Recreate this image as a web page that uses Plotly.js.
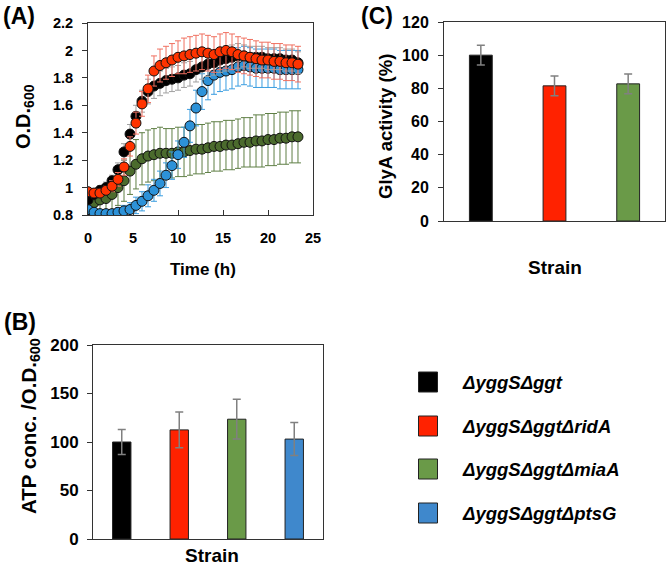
<!DOCTYPE html>
<html>
<head>
<meta charset="utf-8">
<script src="https://cdn.plot.ly/plotly-3.0.1.min.js"></script>
<style>html,body{margin:0;padding:0;background:#fff;}#chart{width:666px;height:565px;}</style>
</head>
<body>
<div id="chart"></div>
<script>
// ---------- DATA ----------
const strains = ['ΔyggSΔggt', 'ΔyggSΔggtΔridA', 'ΔyggSΔggtΔmiaA', 'ΔyggSΔggtΔptsG'];
const strainColors = ['#000000', '#ff2200', '#6a9a48', '#3f88cc'];

// Panel A: growth curves (O.D.600 vs time, h)
const timeH = [0, 0.67, 1.33, 2, 2.67, 3.33, 4, 4.67, 5.33, 6, 6.67, 7.33, 8, 8.67, 9.33, 10, 10.67, 11.33, 12, 12.67, 13.33, 14, 14.67, 15.33, 16, 16.67, 17.33, 18, 18.67, 19.33, 20, 20.67, 21.33, 22, 22.67, 23.33];
const odGgt   = [0.91,0.95,0.98,1.00,1.05,1.13,1.26,1.39,1.52,1.63,1.70,1.74,1.76,1.78,1.79,1.80,1.82,1.83,1.86,1.88,1.90,1.91,1.93,1.94,1.95,1.96,1.96,1.95,1.95,1.95,1.94,1.94,1.94,1.93,1.93,1.91];
const odRidA  = [0.97,0.96,0.96,0.98,1.01,1.06,1.15,1.30,1.47,1.61,1.72,1.85,1.89,1.91,1.93,1.95,1.96,1.97,1.98,1.99,1.98,1.97,1.99,2.00,1.99,1.97,1.96,1.95,1.94,1.93,1.93,1.92,1.92,1.91,1.91,1.90];
const odMiaA  = [0.84,0.89,0.91,0.92,0.95,1.00,1.05,1.12,1.17,1.21,1.23,1.24,1.25,1.25,1.25,1.26,1.26,1.27,1.28,1.28,1.29,1.30,1.30,1.31,1.31,1.32,1.33,1.33,1.34,1.34,1.35,1.35,1.36,1.36,1.37,1.37];
const odPtsG  = [0.84,0.82,0.81,0.81,0.81,0.82,0.83,0.84,0.87,0.90,0.94,0.98,1.03,1.09,1.16,1.24,1.33,1.45,1.58,1.70,1.78,1.82,1.84,1.85,1.86,1.88,1.89,1.88,1.87,1.87,1.87,1.87,1.86,1.86,1.86,1.86];
const errGgt  = [0.03,0.03,0.03,0.04,0.04,0.05,0.06,0.07,0.08,0.08,0.09,0.09,0.09,0.09,0.09,0.09,0.09,0.09,0.09,0.09,0.09,0.09,0.09,0.09,0.09,0.09,0.08,0.08,0.08,0.08,0.08,0.08,0.08,0.08,0.08,0.08];
const errRidA = [0.03,0.03,0.03,0.03,0.04,0.05,0.06,0.07,0.08,0.09,0.10,0.11,0.12,0.12,0.12,0.12,0.13,0.13,0.13,0.13,0.13,0.13,0.13,0.13,0.13,0.13,0.13,0.13,0.13,0.13,0.13,0.13,0.13,0.13,0.13,0.13];
const errMiaA = [0.12,0.10,0.10,0.10,0.11,0.13,0.15,0.17,0.18,0.19,0.19,0.19,0.19,0.18,0.18,0.18,0.18,0.18,0.18,0.18,0.18,0.18,0.18,0.18,0.18,0.18,0.18,0.18,0.19,0.19,0.19,0.19,0.19,0.19,0.19,0.19];
const errPtsG = [0.02,0.02,0.02,0.02,0.03,0.03,0.04,0.05,0.06,0.07,0.08,0.08,0.09,0.09,0.10,0.10,0.11,0.12,0.13,0.13,0.14,0.14,0.14,0.14,0.14,0.14,0.14,0.14,0.14,0.14,0.14,0.14,0.14,0.14,0.14,0.14];

// Panel B: ATP conc. / O.D.600
const atpValues = [100, 112.5, 123.5, 103];
const atpErrors = [13, 18.5, 20.5, 17];

// Panel C: GlyA activity (%)
const glyaStrains = ['ΔyggSΔggt', 'ΔyggSΔggtΔridA', 'ΔyggSΔggtΔmiaA'];
const glyaValues = [100, 81.5, 82.7];
const glyaErrors = [6, 6, 6];

// ---------- STYLE ----------
const W = 666, H = 565;
const FONT = 'Liberation Sans, Arial, Helvetica, sans-serif';
const px = v => v / W;
const py = v => 1 - v / H;

const markerColorsA = ['#000000', '#ff3300', '#4b6b2d', '#2d92d8'];
const errColorsA = ['#a0a0a0', '#f07060', '#5f7f45', '#3a9de0'];
const seriesA = [
  {y: odMiaA, e: errMiaA, i: 2},
  {y: odPtsG, e: errPtsG, i: 3},
  {y: odGgt,  e: errGgt,  i: 0},
  {y: odRidA, e: errRidA, i: 1}
];

const traces = [];
seriesA.forEach(s => {
  traces.push({
    type: 'scatter', mode: 'markers', x: timeH, y: s.y, name: strains[s.i],
    xaxis: 'x', yaxis: 'y', showlegend: false,
    marker: {size: 10, color: markerColorsA[s.i], line: {color: '#111', width: 1}},
    error_y: {type: 'data', array: s.e, visible: true, color: errColorsA[s.i], thickness: 1, width: 3}
  });
});

traces.push({
  type: 'bar', x: glyaStrains, y: glyaValues, xaxis: 'x2', yaxis: 'y2', showlegend: false,
  width: 0.31,
  marker: {color: strainColors.slice(0, 3), line: {color: '#222', width: 1}},
  error_y: {type: 'data', array: glyaErrors, visible: true, color: '#808080', thickness: 1.5, width: 4}
});

traces.push({
  type: 'bar', x: strains, y: atpValues, xaxis: 'x3', yaxis: 'y3', showlegend: false,
  width: 0.32,
  marker: {color: strainColors, line: {color: '#222', width: 1}},
  error_y: {type: 'data', array: atpErrors, visible: true, color: '#808080', thickness: 1.5, width: 4}
});

const axBase = {showline: true, mirror: true, linecolor: '#333', linewidth: 1, showgrid: false, zeroline: false, fixedrange: true};

const tf = size => ({family: FONT, size: size, color: '#000', weight: 'bold'});

const layout = {
  width: W, height: H,
  margin: {l: 0, r: 0, t: 0, b: 0},
  paper_bgcolor: '#fff', plot_bgcolor: '#fff',
  showlegend: false,
  xaxis: Object.assign({}, axBase, {domain: [px(88), px(313)], anchor: 'y', range: [0, 25], dtick: 5, tick0: 0,
    ticks: 'inside', ticklen: 5, tickcolor: '#333', tickfont: tf(14.5), ticklabelstandoff: 10}),
  yaxis: Object.assign({}, axBase, {domain: [py(215), py(23)], anchor: 'x', range: [0.8, 2.2], dtick: 0.2, tick0: 0.8,
    ticks: 'outside', ticklen: 5, tickcolor: '#333', tickfont: tf(14.5), ticklabelstandoff: 6}),
  xaxis2: Object.assign({}, axBase, {domain: [px(444), px(665)], anchor: 'y2', type: 'category', range: [-0.5, 2.5],
    showticklabels: false, ticks: ''}),
  yaxis2: Object.assign({}, axBase, {domain: [py(221), py(22)], anchor: 'x2', range: [0, 120], dtick: 20,
    ticks: 'outside', ticklen: 5, tickcolor: '#333', tickfont: tf(16), ticklabelstandoff: 6}),
  xaxis3: Object.assign({}, axBase, {domain: [px(93), px(323)], anchor: 'y3', type: 'category', range: [-0.5, 3.5],
    showticklabels: false, ticks: ''}),
  yaxis3: Object.assign({}, axBase, {domain: [py(539), py(345)], anchor: 'x3', range: [0, 200], dtick: 50,
    ticks: 'outside', ticklen: 5, tickcolor: '#333', tickfont: tf(17), ticklabelstandoff: 5}),
  annotations: [],
  shapes: []
};

function ann(text, x, y, size, opts) {
  layout.annotations.push(Object.assign({
    text: text, x: px(x), y: py(y), xref: 'paper', yref: 'paper',
    xanchor: 'center', yanchor: 'middle', showarrow: false, font: tf(size)
  }, opts || {}));
}

ann('(A)', 19, 16, 23);
ann('(C)', 377, 16, 23);
ann('(B)', 20, 322, 23);
ann('O.D.<sub>600</sub>', 24, 117, 20, {textangle: -90});
ann('Time (h)', 203, 269, 17);
ann('GlyA activity (%)', 385, 127, 18.5, {textangle: -90});
ann('Strain', 555, 267, 19);
ann('ATP conc. /O.D.<sub>600</sub>', 30, 426, 20.5, {textangle: -90});
ann('Strain', 212, 555, 19);

// Legend (swatches + labels)
const legendRowsY = [382, 426, 469, 513];
strains.forEach((s, k) => {
  layout.shapes.push({type: 'rect', xref: 'paper', yref: 'paper',
    x0: px(418.5), x1: px(437.5), y0: py(legendRowsY[k] + 10), y1: py(legendRowsY[k] - 10),
    fillcolor: strainColors[k], line: {color: '#222', width: 1}});
  ann(s, 460, legendRowsY[k], 18.5, {xanchor: 'left',
    font: {family: FONT, size: 18.5, color: '#000', weight: 'bold', style: 'italic'}});
});

Plotly.newPlot('chart', traces, layout, {displayModeBar: false, staticPlot: true});
</script>
</body>
</html>
